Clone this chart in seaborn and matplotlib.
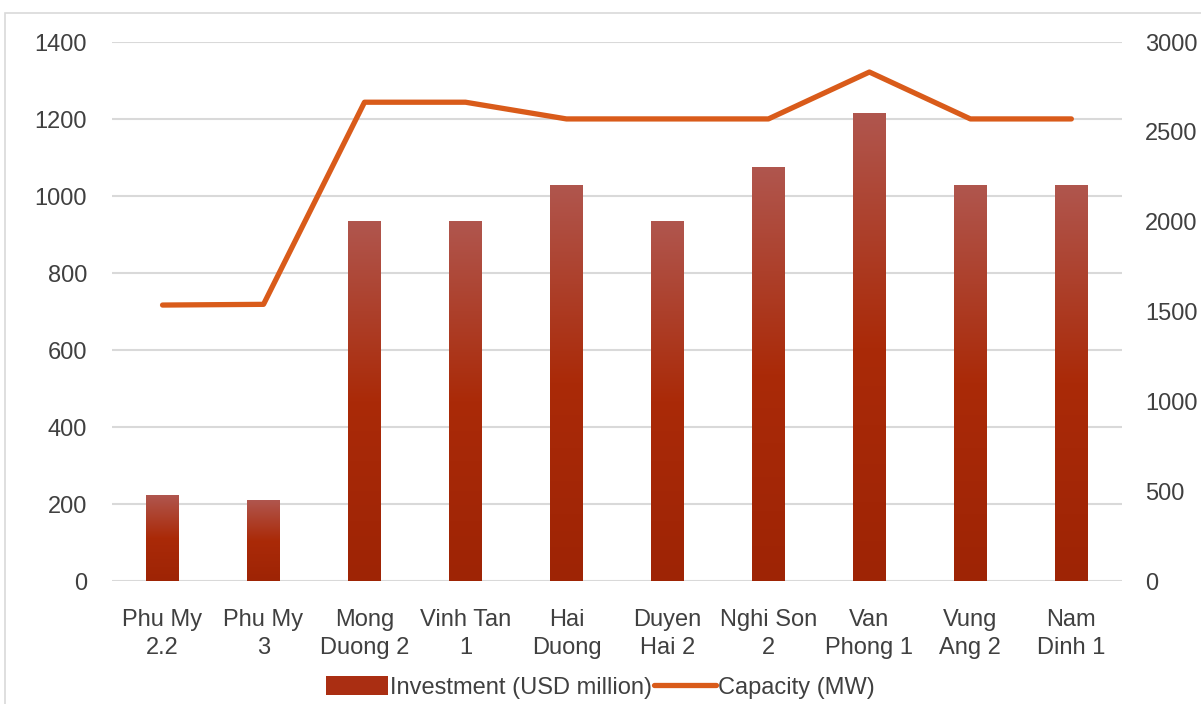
import numpy as np
import pandas as pd
import matplotlib
matplotlib.use("Agg")
import matplotlib.pyplot as plt
import seaborn as sns
from matplotlib.colors import LinearSegmentedColormap
from matplotlib.patches import Patch, Rectangle
from matplotlib.lines import Line2D

plants = ["Phu My\n2.2", "Phu My\n3", "Mong\nDuong 2", "Vinh Tan\n1", "Hai\nDuong",
          "Duyen\nHai 2", "Nghi Son\n2", "Van\nPhong 1", "Vung\nAng 2", "Nam\nDinh 1"]
investment = [223, 210, 935, 935, 1029, 935, 1075, 1215, 1029, 1029]
capacity = [1536, 1540, 2665, 2665, 2572, 2572, 2572, 2833, 2572, 2572]

df = pd.DataFrame({"plant": plants, "investment": investment, "capacity": capacity})

sns.set_style("white")
plt.rcParams["font.family"] = ["Liberation Sans", "DejaVu Sans"]
txt = "#404040"
fs = 17

fig = plt.figure(figsize=(12.01, 7.04), dpi=100)
ax = fig.add_axes([0.0933, 0.1747, 0.8408, 0.7656])

sns.barplot(data=df, x="plant", y="investment", ax=ax, width=0.32, color="#A8290A",
            saturation=1, edgecolor="none")

# gradient fill on bars
cmap = LinearSegmentedColormap.from_list("bar", ["#9E2405", "#AA2A08", "#B0564E"])
grad = np.linspace(0, 1, 256).reshape(-1, 1)
for p in list(ax.patches):
    x0, y0 = p.get_x(), p.get_y()
    w, h = p.get_width(), p.get_height()
    im = ax.imshow(grad, cmap=cmap, origin="lower", aspect="auto",
                   extent=[x0, x0 + w, y0, y0 + h], zorder=2)
    im.set_clip_path(p)
    p.set_facecolor("none")

ax.set_xlim(-0.5, len(plants) - 0.5)
ax.set_ylim(0, 1400)
ax.set_yticks(range(0, 1401, 200))
ax.grid(axis="y", color="#D9D9D9", lw=1.5)
ax.set_axisbelow(True)
ax.set_xlabel("")
ax.set_ylabel("")
for s in ax.spines.values():
    s.set_visible(False)
ax.tick_params(axis="both", length=0, labelsize=fs, colors=txt)
ax.tick_params(axis="y", pad=18)
ax.tick_params(axis="x", pad=20)
for lab in ax.get_xticklabels():
    lab.set_linespacing(1.38)

ax2 = ax.twinx()
sns.lineplot(x=np.arange(len(plants)), y=df["capacity"], ax=ax2, color="#D95B1A", lw=3.8)
ax2.set_ylim(0, 3000)
ax2.set_yticks(range(0, 3001, 500))
ax2.set_ylabel("")
for s in ax2.spines.values():
    s.set_visible(False)
ax2.tick_params(axis="y", length=0, labelsize=fs, colors=txt, pad=16.5)
ax2.grid(False)

handles = [Patch(facecolor="#AA2E12", edgecolor="none"),
           Line2D([0], [0], color="#D95B1A", lw=3.8)]
fig.legend(handles, ["Investment (USD million)", "Capacity (MW)"], loc="center",
           bbox_to_anchor=(0.5, 0.024), ncol=2, frameon=False, fontsize=fs,
           handlelength=2.6, handleheight=0.9, handletextpad=0.1, columnspacing=0.1,
           labelcolor=txt)

fig.patches.append(Rectangle((0.004, -0.1), 1.2, 1.081, transform=fig.transFigure,
                             fill=False, edgecolor="#D9D9D9", lw=1.2))

fig.savefig("out.png", dpi=100)
